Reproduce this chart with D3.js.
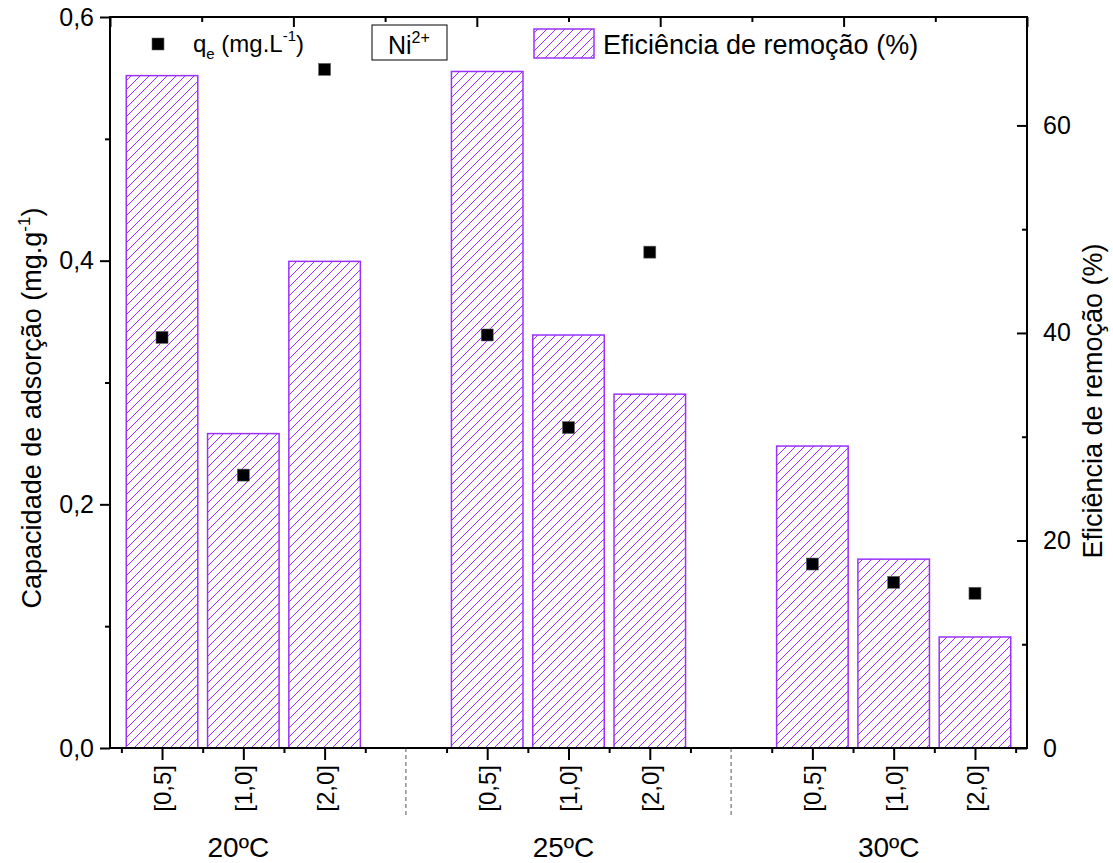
<!DOCTYPE html>
<html>
<head>
<meta charset="utf-8">
<script src="https://cdn.jsdelivr.net/npm/d3@7"></script>
<style>
  html, body { margin: 0; padding: 0; background: #fff; }
  svg { display: block; font-family: "Liberation Sans", Arial, sans-serif; }
</style>
</head>
<body>
<svg id="chart" width="1113" height="863"></svg>
<script>
// Ni2+ adsorption: capacity (q_e) and removal efficiency by dose and temperature
const temperatures = ["20ºC", "25ºC", "30ºC"];
const doses = ["[0,5]", "[1,0]", "[2,0]"];
const qe = [0.337, 0.224, 0.557, 0.339, 0.263, 0.407, 0.151, 0.136, 0.127];
const efficiency = [64.8, 30.3, 46.9, 65.2, 39.8, 34.1, 29.1, 18.2, 10.7];
const leftTicks = [0, 0.2, 0.4, 0.6];
const leftMinor = [0.1, 0.3, 0.5];
const rightTicks = [0, 20, 40, 60];
const rightMinor = [10, 30, 50];

const purple = "#9b30ff";
const svg = d3.select("#chart");

const plot = { left: 110, right: 1027, top: 17, bottom: 748 };

// each temperature block takes 3 slots plus one empty separator slot
const rows = qe.map((q, i) => {
  const g = Math.floor(i / 3), j = i % 3;
  return { pos: g * 4 + j, dose: doses[j], temp: temperatures[g], qe: q, eff: efficiency[i] };
});

const x = d3.scaleLinear().domain([-0.64, 10.64]).range([plot.left, plot.right]);
const yL = d3.scaleLinear().domain([0, 0.6]).range([plot.bottom, plot.top]);
const yR = d3.scaleLinear().domain([0, 70.45]).range([plot.bottom, plot.top]);
const xTop = d3.scaleLinear().domain([0, 10]).range([plot.left, plot.right]);

// hatch pattern
const hs = 9;
const defs = svg.append("defs");
const pat = defs.append("pattern")
  .attr("id", "hatch").attr("patternUnits", "userSpaceOnUse")
  .attr("width", hs).attr("height", hs);
pat.append("rect").attr("width", hs).attr("height", hs).attr("fill", "#fff");
pat.append("path")
  .attr("d", `M-2,2 L2,-2 M0,${hs} L${hs},0 M${hs - 2},${hs + 2} L${hs + 2},${hs - 2}`)
  .attr("stroke", purple).attr("stroke-width", 1);

// bars (efficiency, right axis)
const barW = x(0.88) - x(0);
svg.append("g").selectAll("rect").data(rows).join("rect")
  .attr("x", d => x(d.pos) - barW / 2)
  .attr("y", d => yR(d.eff))
  .attr("width", barW)
  .attr("height", d => yR(0) - yR(d.eff))
  .attr("fill", "url(#hatch)")
  .attr("stroke", purple).attr("stroke-width", 1.5);

// q_e points (left axis)
svg.append("g").selectAll("rect").data(rows).join("rect")
  .attr("x", d => x(d.pos) - 6)
  .attr("y", d => yL(d.qe) - 6)
  .attr("width", 12).attr("height", 12)
  .attr("fill", "#000").attr("stroke", "#666").attr("stroke-width", 0.6);

function styleAxis(g, fontSize) {
  g.select(".domain").remove();
  g.selectAll(".tick line").attr("stroke", "#000").attr("stroke-width", 2);
  g.selectAll("text").attr("fill", "#000").style("font-size", fontSize + "px")
    .style("font-family", "'Liberation Sans', Arial, sans-serif");
}

const fmtL = d => d3.format(".1f")(d).replace(".", ",");

// left axis
const gl = svg.append("g").attr("transform", `translate(${plot.left},0)`)
  .call(d3.axisLeft(yL).tickValues(leftTicks).tickFormat(fmtL).tickSize(10).tickPadding(6));
styleAxis(gl, 25);
const glm = svg.append("g").attr("transform", `translate(${plot.left},0)`)
  .call(d3.axisLeft(yL).tickValues(leftMinor).tickFormat("").tickSize(5));
styleAxis(glm, 25);

// right axis (ticks inward)
const gr = svg.append("g").attr("transform", `translate(${plot.right},0)`)
  .call(d3.axisRight(yR).tickValues(rightTicks).tickFormat(d3.format("d")).tickSize(-10).tickPadding(16));
styleAxis(gr, 25);
const grm = svg.append("g").attr("transform", `translate(${plot.right},0)`)
  .call(d3.axisRight(yR).tickValues(rightMinor).tickFormat("").tickSize(-5));
styleAxis(grm, 25);

// top axis (ticks inward)
const gt = svg.append("g").attr("transform", `translate(0,${plot.top})`)
  .call(d3.axisBottom(xTop).tickValues([0, 2, 4, 6, 8, 10]).tickFormat("").tickSize(10));
styleAxis(gt, 20);
const gtm = svg.append("g").attr("transform", `translate(0,${plot.top})`)
  .call(d3.axisBottom(xTop).tickValues([1, 3, 5, 7, 9]).tickFormat("").tickSize(5));
styleAxis(gtm, 20);

// bottom axis: dose labels at each bar, short ticks between slots
const gb = svg.append("g").attr("transform", `translate(0,${plot.bottom})`)
  .call(d3.axisBottom(x).tickValues(rows.map(d => d.pos))
    .tickFormat((d, i) => rows[i].dose).tickSize(12).tickPadding(0));
styleAxis(gb, 24);
gb.selectAll(".tick text")
  .attr("transform", "rotate(-90)")
  .attr("x", -17).attr("y", 0).attr("dy", "0.35em")
  .attr("text-anchor", "end");
const halfTicks = d3.range(-0.5, 11, 1);
const gbm = svg.append("g").attr("transform", `translate(0,${plot.bottom})`)
  .call(d3.axisBottom(x).tickValues(halfTicks).tickFormat("").tickSize(5));
styleAxis(gbm, 24);

// dashed group separators
svg.append("g").selectAll("line").data([3, 7]).join("line")
  .attr("x1", d => x(d)).attr("x2", d => x(d))
  .attr("y1", plot.bottom).attr("y2", plot.bottom + 70)
  .attr("stroke", "#555").attr("stroke-width", 1).attr("stroke-dasharray", "4,3");

// temperature group labels
svg.append("g").selectAll("text").data(temperatures).join("text")
  .attr("x", (d, i) => x(i * 4 + 1) - 5)
  .attr("y", 857)
  .attr("text-anchor", "middle")
  .style("font-size", "28px")
  .text(d => d);

// frame
svg.append("rect")
  .attr("x", plot.left).attr("y", plot.top)
  .attr("width", plot.right - plot.left).attr("height", plot.bottom - plot.top)
  .attr("fill", "none").attr("stroke", "#000").attr("stroke-width", 2);

// axis titles
svg.append("text")
  .attr("transform", "translate(41,408) rotate(-90)")
  .attr("text-anchor", "middle").style("font-size", "27px")
  .call(t => {
    t.append("tspan").text("Capacidade de adsorção (mg.g");
    t.append("tspan").attr("dy", -11).style("font-size", "17px").text("-1");
    t.append("tspan").attr("dy", 11).text(")");
  });
svg.append("text")
  .attr("transform", "translate(1102,401) rotate(-90)")
  .attr("text-anchor", "middle").style("font-size", "27px")
  .text("Eficiência de remoção (%)");

// legend: q_e marker
const lg = svg.append("g");
lg.append("rect").attr("x", 152).attr("y", 38).attr("width", 12).attr("height", 12)
  .attr("fill", "#000").attr("stroke", "#666").attr("stroke-width", 0.6);
lg.append("text").attr("x", 193).attr("y", 52).style("font-size", "24px")
  .call(t => {
    t.append("tspan").text("q");
    t.append("tspan").attr("dy", 7).style("font-size", "15px").text("e");
    t.append("tspan").attr("dy", -7).text(" (mg.L");
    t.append("tspan").attr("dy", -11).style("font-size", "15px").text("-1");
    t.append("tspan").attr("dy", 11).text(")");
  });

// legend: metal label box
lg.append("rect").attr("x", 372).attr("y", 25).attr("width", 75).attr("height", 35)
  .attr("fill", "#fff").attr("stroke", "#000").attr("stroke-width", 1);
lg.append("text").attr("x", 388).attr("y", 54).style("font-size", "25px")
  .call(t => {
    t.append("tspan").text("Ni");
    t.append("tspan").attr("dy", -11).style("font-size", "16px").text("2+");
  });

// legend: efficiency bars
lg.append("rect").attr("x", 534).attr("y", 29).attr("width", 60).attr("height", 29)
  .attr("fill", "url(#hatch)").attr("stroke", purple).attr("stroke-width", 1.5);
lg.append("text").attr("x", 603).attr("y", 54).style("font-size", "27px")
  .text("Eficiência de remoção (%)");
</script>
</body>
</html>
